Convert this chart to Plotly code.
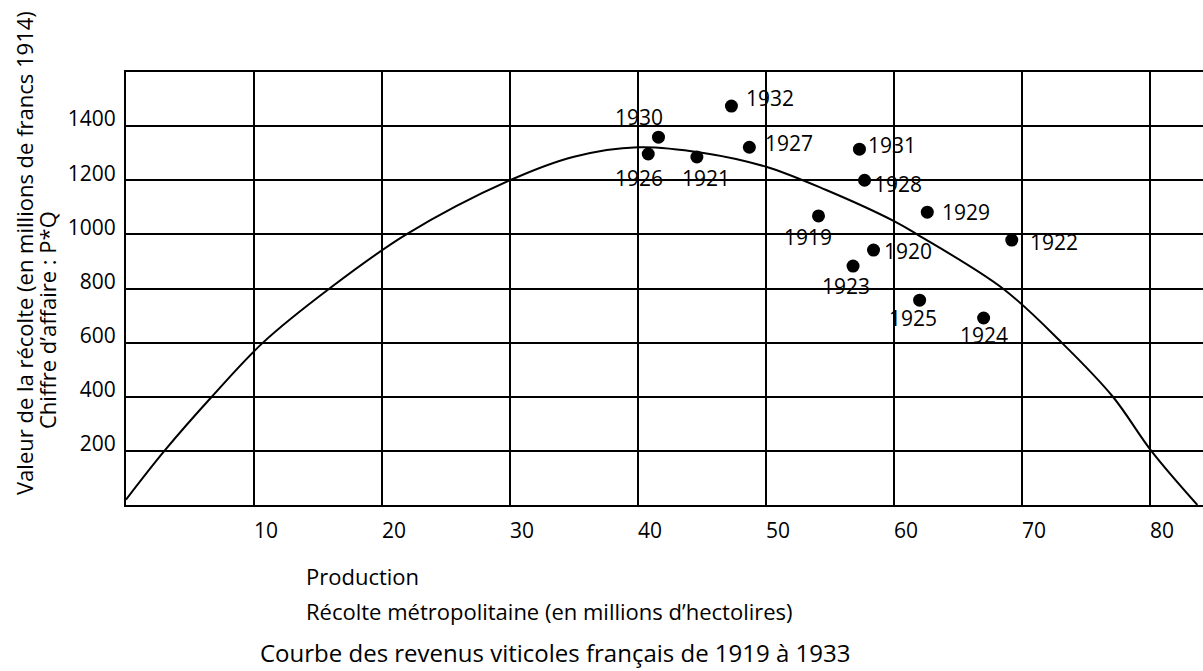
import plotly.graph_objects as go

# --- data ---
years = [1919, 1920, 1921, 1922, 1923, 1924, 1925, 1926, 1927, 1928, 1929, 1930, 1931, 1932]
production = [54.1, 58.4, 44.6, 69.2, 56.8, 67.0, 62.0, 40.8, 48.7, 57.7, 62.6, 41.6, 57.3, 47.3]
valeur = [1068, 942, 1286, 979, 883, 691, 757, 1297, 1322, 1200, 1082, 1359, 1315, 1474]

curve_x = [0, 3.0, 6.7, 10.7, 15.9, 21.9, 30.0, 35.0, 40.0, 45.0, 50.0, 54.7,
           60.0, 61.8, 68.5, 73.1, 77.1, 80.1, 83.7]
curve_y = [20, 200, 400, 600, 800, 1000, 1200, 1287, 1322, 1302, 1250, 1164,
           1049, 1000, 800, 600, 400, 200, 0]

x_ticks = [10, 20, 30, 40, 50, 60, 70, 80]
y_ticks = [200, 400, 600, 800, 1000, 1200, 1400]

# label placement per year: (xanchor, xshift px, yshift px)
label_pos = {
    1919: ("center", -10, -21), 1920: ("left", 8, -1), 1921: ("center", 9, -21),
    1922: ("left", 16, -2), 1923: ("center", -7, -20), 1924: ("center", 0, -17),
    1925: ("center", -7, -18), 1926: ("center", -9, -24), 1927: ("left", 14, 4),
    1928: ("left", 7, -4), 1929: ("left", 13, 0), 1930: ("center", -19, 20),
    1931: ("left", 7, 4), 1932: ("left", 13, 8),
}

FONT = "Open Sans"
fig = go.Figure()
fig.add_trace(go.Scatter(x=curve_x, y=curve_y, mode="lines",
                         line=dict(color="black", width=2, shape="spline", smoothing=1.0),
                         hoverinfo="skip", showlegend=False))
fig.add_trace(go.Scatter(x=production, y=valeur, mode="markers",
                         marker=dict(color="black", size=13), text=years,
                         showlegend=False))

for yr, px, py in zip(years, production, valeur):
    anc, dx, dy = label_pos[yr]
    fig.add_annotation(x=px, y=py, xref="x", yref="y", text=str(yr), showarrow=False,
                       xanchor=anc, yanchor="middle", xshift=dx, yshift=dy,
                       font=dict(family=FONT, size=21, color="black"))

W, H = 1203, 671
L, T, B, R = 126, 72, 166, 0
pw, ph = W - L - R, H - T - B

def px_x(p):
    return (p - L) / pw

def px_y(p):
    return (H - B - p) / ph

fig.add_annotation(xref="paper", yref="paper", x=px_x(24), y=px_y(253), textangle=-90,
                   text="Valeur de la récolte (en millions de francs 1914)", showarrow=False,
                   xanchor="center", yanchor="middle", font=dict(family=FONT, size=22, color="black"))
fig.add_annotation(xref="paper", yref="paper", x=px_x(47), y=px_y(320), textangle=-90,
                   text="Chiffre d’affaire : P*Q", showarrow=False,
                   xanchor="center", yanchor="middle", font=dict(family=FONT, size=22, color="black"))
fig.add_annotation(xref="paper", yref="paper", x=px_x(304), y=px_y(576),
                   text="Production", showarrow=False,
                   xanchor="left", yanchor="middle", font=dict(family=FONT, size=22, color="black"))
fig.add_annotation(xref="paper", yref="paper", x=px_x(304), y=px_y(611),
                   text="Récolte métropolitaine (en millions d’hectolires)", showarrow=False,
                   xanchor="left", yanchor="middle", font=dict(family=FONT, size=22, color="black"))
fig.add_annotation(xref="paper", yref="paper", x=px_x(555), y=px_y(652),
                   text="Courbe des revenus viticoles français de 1919 à 1933", showarrow=False,
                   xanchor="center", yanchor="middle", font=dict(family=FONT, size=24, color="black"))

fig.update_xaxes(range=[0, 84.14], tickvals=x_ticks, ticktext=[str(v) for v in x_ticks],
                 showgrid=True, gridcolor="black", gridwidth=2, zeroline=False,
                 showline=True, linecolor="black", linewidth=2, mirror=True,
                 ticks="", ticklabelshift=12, ticklabelstandoff=6,
                 tickfont=dict(family=FONT, size=21, color="black"))
fig.update_yaxes(range=[0, 1600], tickvals=y_ticks, ticktext=[str(v) for v in y_ticks],
                 showgrid=True, gridcolor="black", gridwidth=2, zeroline=False,
                 showline=True, linecolor="black", linewidth=2, mirror=False,
                 ticks="", ticklabelshift=-7, ticklabelstandoff=4,
                 tickfont=dict(family=FONT, size=21, color="black"))

fig.update_layout(width=W, height=H, margin=dict(l=L, r=R, t=T, b=B),
                  paper_bgcolor="white", plot_bgcolor="white", showlegend=False,
                  font=dict(family=FONT, color="black"))

fig.write_html("out.html", config={"displayModeBar": False},
               post_script="document.body.style.margin='0';document.body.style.overflow='hidden';")
